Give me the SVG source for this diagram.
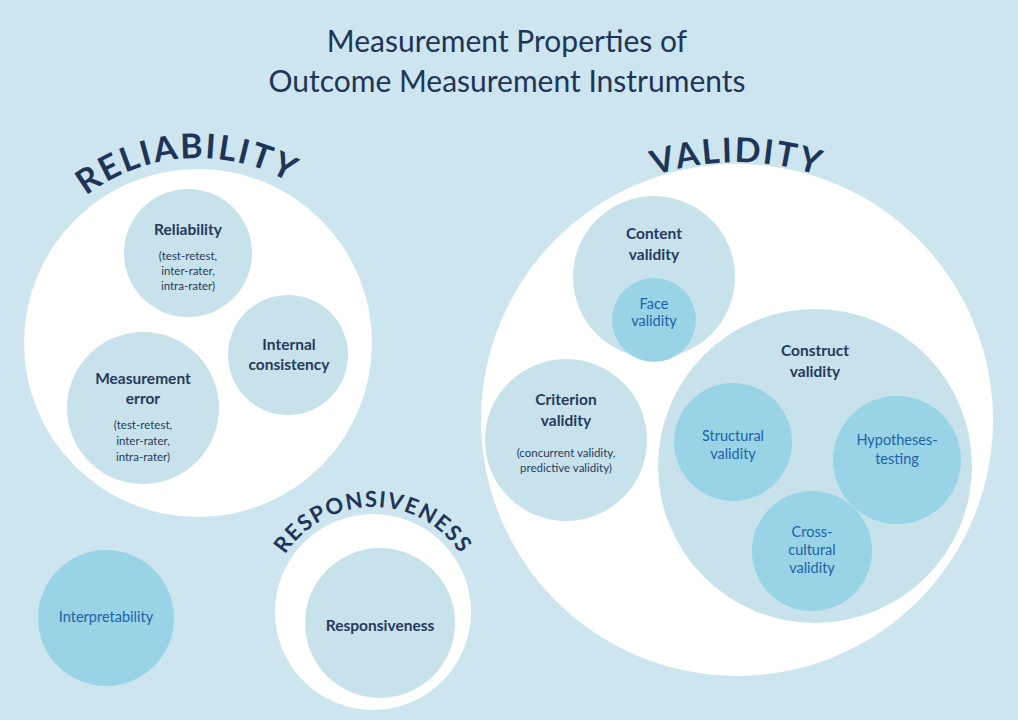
<svg xmlns="http://www.w3.org/2000/svg" width="1018" height="720" viewBox="0 0 1018 720">
<defs>
<style>
.bg{fill:#cce5ef}
.w{fill:#ffffff}
.l{fill:#c8e2ec}
.m{fill:#99d3e6}
text{font-family:Lato,"Noto Sans","Liberation Sans",sans-serif;text-anchor:middle}
.t{fill:#1f3558;font-size:30px}
.arc{fill:#1f3558;font-weight:700}
.h{fill:#263a5c;font-weight:700;font-size:15.5px}
.s{fill:#263a5c;font-size:11.5px}
.b{fill:#1b62a8;font-size:14.5px}
</style>
<path id="pRel" d="M 13 343 A 185 185 0 0 1 383 343"/>
<path id="pVal" d="M 479 420 A 258 258 0 0 1 995 420"/>
<path id="pResp" d="M 268 612 A 105 105 0 0 1 478 612"/>
</defs>
<rect class="bg" x="0" y="0" width="1018" height="720"/>
<g id="title">
<text class="t" x="507" y="52">Measurement Properties of</text>
<text class="t" x="507" y="92">Outcome Measurement Instruments</text>
</g>
<g id="reliability-group">
<circle class="w" cx="198" cy="343" r="174"/>
<text class="arc" font-size="34" letter-spacing="2"><textPath href="#pRel" startOffset="48%">RELIABILITY</textPath></text>
</g>
<g id="reliability">
<circle class="l" cx="188" cy="253" r="64"/>
<text class="h" x="188" y="235">Reliability</text>
<text class="s" x="188" y="260">(test-retest,</text>
<text class="s" x="188" y="275">inter-rater,</text>
<text class="s" x="188" y="290">intra-rater)</text>
</g>
<g id="internal-consistency">
<circle class="l" cx="288" cy="355" r="60"/>
<text class="h" x="289" y="350">Internal</text>
<text class="h" x="289" y="370">consistency</text>
</g>
<g id="measurement-error">
<circle class="l" cx="143" cy="408" r="76"/>
<text class="h" x="143" y="384">Measurement</text>
<text class="h" x="143" y="404">error</text>
<text class="s" x="143" y="429">(test-retest,</text>
<text class="s" x="143" y="445">inter-rater,</text>
<text class="s" x="143" y="461">intra-rater)</text>
</g>
<g id="validity-group">
<circle class="w" cx="737" cy="420" r="256"/>
<text class="arc" font-size="34" letter-spacing="2"><textPath href="#pVal" startOffset="50%">VALIDITY</textPath></text>
</g>
<g id="content-validity">
<circle class="l" cx="654" cy="277" r="81"/>
<text class="h" x="654" y="239" font-size="16">Content</text>
<text class="h" x="654" y="260" font-size="16">validity</text>
</g>
<g id="face-validity">
<circle class="m" cx="654" cy="320" r="42"/>
<text class="b" x="654" y="309">Face</text>
<text class="b" x="654" y="326">validity</text>
</g>
<g id="criterion-validity">
<circle class="l" cx="566" cy="440" r="81"/>
<text class="h" x="566" y="405" font-size="16">Criterion</text>
<text class="h" x="566" y="426" font-size="16">validity</text>
<text class="s" x="566" y="457">(concurrent validity,</text>
<text class="s" x="566" y="472">predictive validity)</text>
</g>
<g id="construct-validity">
<circle class="l" cx="815" cy="466" r="157"/>
<text class="h" x="815" y="356" font-size="16">Construct</text>
<text class="h" x="815" y="377" font-size="16">validity</text>
</g>
<g id="structural-validity">
<circle class="m" cx="733" cy="442" r="59"/>
<text class="b" x="733" y="441">Structural</text>
<text class="b" x="733" y="459">validity</text>
</g>
<g id="hypotheses-testing">
<circle class="m" cx="897" cy="460" r="64"/>
<text class="b" x="897" y="445">Hypotheses-</text>
<text class="b" x="897" y="464">testing</text>
</g>
<g id="cross-cultural-validity">
<circle class="m" cx="812" cy="551" r="60"/>
<text class="b" x="812" y="537">Cross-</text>
<text class="b" x="812" y="555">cultural</text>
<text class="b" x="812" y="573">validity</text>
</g>
<g id="responsiveness-group">
<circle class="w" cx="373" cy="612" r="98"/>
<text class="arc" font-size="22" letter-spacing="1.5"><textPath href="#pResp" startOffset="50%">RESPONSIVENESS</textPath></text>
</g>
<g id="responsiveness">
<circle class="l" cx="380" cy="623" r="75"/>
<text class="h" x="380" y="631">Responsiveness</text>
</g>
<g id="interpretability">
<circle class="m" cx="106" cy="618" r="68"/>
<text class="b" x="106" y="622" font-size="16">Interpretability</text>
</g>
<g id="connectors"/>
</svg>
